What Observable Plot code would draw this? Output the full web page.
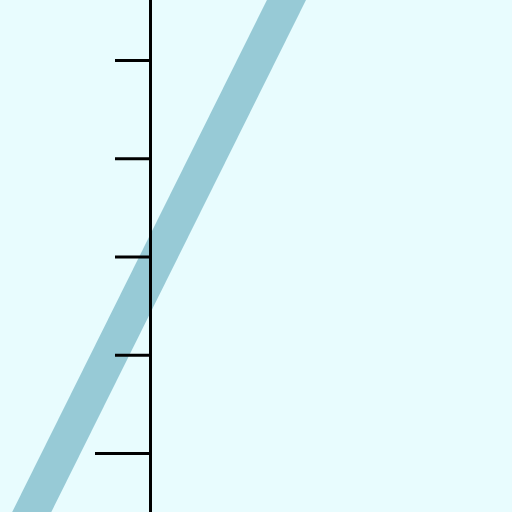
<!DOCTYPE html>
<html>
<head>
<meta charset="utf-8">
<script src="https://cdn.jsdelivr.net/npm/d3@7"></script>
<script src="https://cdn.jsdelivr.net/npm/@observablehq/plot@0.6"></script>
<style>
  body { margin: 0; background: #e8fcfe; }
</style>
</head>
<body>
<div id="chart"></div>
<script>
// line endpoints (data units)
const lineX = [-1.4, 1.6]
const lineY = [-0.98, 5.05]
// y ticks
const shortTicks = [1, 2, 3, 4]
const longTicks = [0]

const data = lineX.map((x, i) => ({x, y: lineY[i]}))

let chart = Plot.plot({
  marks: [
    Plot.line(data, {x: 'x', y: 'y', stroke: '#97cad6', strokeWidth: 35, strokeLinecap: 'butt'}),
    Plot.ruleX([0], {stroke: 'black', strokeWidth: 3}),
    Plot.axisY({ticks: shortTicks, tickSize: 35, tickFormat: () => '', label: null, stroke: 'black', strokeWidth: 3}),
    Plot.axisY({ticks: longTicks, tickSize: 55, tickFormat: () => '', label: null, stroke: 'black', strokeWidth: 3})
  ],
  x: {domain: [0, 3.684], axis: null},
  y: {domain: [-0.6, 4.61], axis: null},
  style: {background: '#e8fcfe', overflow: 'visible'},
  width: 512,
  height: 512,
  marginLeft: 150,
  marginRight: 0,
  marginTop: 0,
  marginBottom: 0
})

d3.select('#chart').append(() => chart)
</script>
</body>
</html>
